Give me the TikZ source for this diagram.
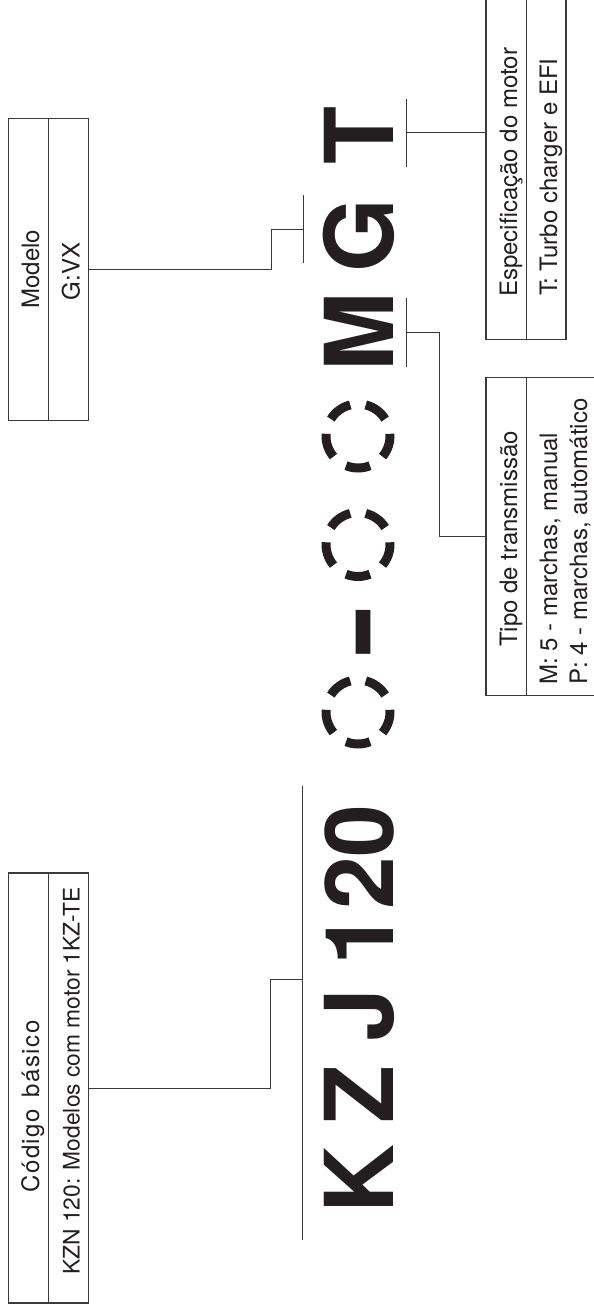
\documentclass[tikz,border=0pt]{standalone}
\usepackage{fontspec}
\setmainfont{TeX Gyre Heros}
\usetikzlibrary{calc}
\definecolor{ink}{HTML}{231F20}
\definecolor{rule}{HTML}{3A3A3A}

\begin{document}
\begin{tikzpicture}[
    x=1pt, y=-1pt,
    box/.style={draw=rule, line width=1.1pt, inner sep=0pt},
    lbl/.style={rotate=90, inner sep=0pt, text=ink, font=\fontsize{24}{29}\selectfont},
    big/.style={rotate=90, inner sep=0pt, anchor=base, text=ink, font=\fontsize{95}{100}\selectfont\bfseries},
    bar/.style={draw=rule, line width=1pt},
    link/.style={draw=rule, line width=1pt},
]
\fill[white] (0,0) rectangle (594,1312);
\useasboundingbox (0,0) rectangle (594,1312);

% boxes
\node[box, minimum width=80pt, minimum height=430pt] (cod) at (48.3,1088) {};
\node[box, minimum width=80pt, minimum height=301.7pt] (mod) at (48.3,269.2) {};
\node[box, minimum width=80pt, minimum height=359.3pt] (esp) at (526,159.7) {};
\node[box, minimum width=122pt, minimum height=317.7pt] (tip) at (547,536.2) {};
\foreach \b/\d in {cod/41, mod/41, esp/40.7, tip/40.7}
    \draw[box] ([xshift=\d pt]\b.north west) -- ([xshift=\d pt]\b.south west);

% box texts
\node[lbl, anchor=base] (codh) at (39,1106.5) {\addfontfeature{LetterSpace=6}Código\hspace{0.5em}básico};
\node[lbl, anchor=base west, font=\fontsize{22.8}{27}\selectfont] (codt) at (79.5,1275) {KZN 120: Modelos com motor 1KZ-TE};
\node[lbl, anchor=base] (modh) at (39,269.2) {Modelo};
\node[lbl, anchor=base] (modt) at (79.5,271.5) {G:VX};
\node[lbl, anchor=base west] (esph) at (517,297) {Especificação do motor};
\node[lbl, anchor=base west] (espt) at (557,296) {T: Turbo charger e EFI};
\node[lbl, anchor=base] (tiph) at (517,539) {Tipo de transmissão};
\node[lbl, anchor=base west] (tipa) at (557,685) {M: 5 - marchas, manual};
\node[lbl, anchor=base west] (tipb) at (587,685) {P: 4 - marchas, automático};

% model code
\foreach \ch/\yy [count=\i] in {K/1179.5, Z/1094, J/1015, 1/939, 2/883.5, 0/831.5, M/331.5, G/235.5, T/135.5}
    \node[big] (g\i) at (393.5,\yy) {\ch};
\node[big] (dash) at (393.5,632) {\scalebox{1.7}[1.15]{-}};
\foreach \cy [count=\i] in {712, 544.5, 436} {
    \coordinate (c\i) at (358,\cy);
    \foreach \a in {18,90,162,234,306}
        \draw[ink, line width=9pt] ($(c\i)+({\a-22}:32)$) arc[start angle=\a-22, end angle=\a+22, radius=32];
}

% bars under the code groups
\foreach \x/\ya/\yb in {302.7/785.7/1239.6, 303.3/195/263, 406/298/366.5, 406/99/167}
    \draw[bar] (\x,\ya) -- (\x,\yb);
\coordinate (kzjin) at (302.7,979.5);
\coordinate (gin) at (303.3,229.7);
\coordinate (min) at (406,332.5);
\coordinate (tin) at (406,132.7);

% connectors
\draw[link] (cod.east) -- ++(181.7,0) |- (kzjin);
\draw[link] (mod.east) -- ++(182.4,0) |- (gin);
\draw[link] (min) -- ++(33.5,0) |- (tip.west);
\draw[link] (tin) -- (tin -| esp.west);

\end{tikzpicture}
\end{document}
